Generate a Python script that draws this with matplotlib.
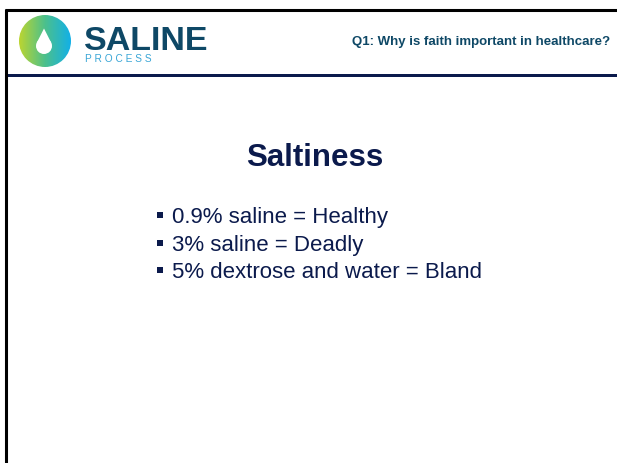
import matplotlib
matplotlib.use("Agg")
import matplotlib.pyplot as plt
import numpy as np
from matplotlib.patches import Circle, Polygon, Rectangle
from matplotlib.colors import LinearSegmentedColormap

plt.rcParams['font.family'] = ['Liberation Sans', 'DejaVu Sans']

brand = "SALINE"
brand_sub = "PROCESS"
header = "Q1: Why is faith important in healthcare?"
title = "Saltiness"
bullets = ["0.9% saline = Healthy",
           "3% saline = Deadly",
           "5% dextrose and water = Bland"]

navy = "#0b1a4c"
teal = "#0e4866"

W, H = 617, 463
fig = plt.figure(figsize=(W / 100, H / 100), dpi=100)
ax = fig.add_axes([0, 0, 1, 1])
ax.set_xlim(0, W)
ax.set_ylim(H, 0)
ax.axis("off")

# slide frame
ax.plot([6, 6], [9, H], color="black", lw=2.2, solid_capstyle="butt")
ax.plot([5, W], [9.5, 9.5], color="black", lw=2.2, solid_capstyle="butt")
ax.add_patch(Rectangle((7, 73.5), W - 7, 3.5, color=navy, lw=0))

# logo disk with gradient
cmap = LinearSegmentedColormap.from_list("logo", ["#bcd530", "#4cc08c", "#12b0e8"])
grad = np.linspace(0, 1, 256).reshape(1, -1)
cx, cy, r = 45, 41, 26
img = ax.imshow(grad, cmap=cmap, extent=(cx - r, cx + r, cy + r, cy - r),
                aspect="auto", zorder=2)
clip = Circle((cx, cy), r, transform=ax.transData)
img.set_clip_path(clip)
ax.add_patch(Circle((cx - 1, 46), 8, color="white", zorder=3, lw=0))
ax.add_patch(Polygon([(cx - 8.6, 43.5), (cx - 1, 28.5), (cx + 6.6, 43.5)],
                     closed=True, color="white", zorder=3, lw=0))

ax.text(84, 50, brand, fontsize=24.5, fontweight="bold", color=teal,
        ha="left", va="baseline")
ax.text(85, 62, " ".join(brand_sub), fontsize=7.3, color="#3aa6d6",
        ha="left", va="baseline")

ax.text(610, 45, header, fontsize=9.5, fontweight="bold", color=teal,
        ha="right", va="baseline")

ax.text(315, 166, title, fontsize=22.5, fontweight="bold", color=navy,
        ha="center", va="baseline")

baselines = [223, 251, 278]
for y, line in zip(baselines, bullets):
    ax.add_patch(Rectangle((157, y - 11), 6, 6, color=navy, lw=0))
    ax.text(172, y, line, fontsize=16, color=navy, ha="left", va="baseline")

fig.savefig("out.png", dpi=100)
